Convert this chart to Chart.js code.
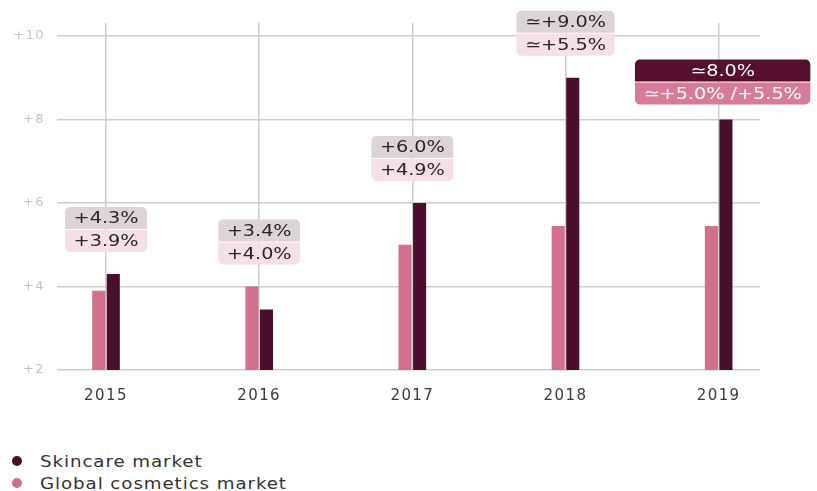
<!DOCTYPE html>
<html>
<head>
<meta charset="utf-8">
<script src="https://cdn.jsdelivr.net/npm/chart.js@4"></script>
<style>
  body { margin: 0; background: #fff; font-family: "DejaVu Sans", sans-serif; }
  #wrap { position: relative; width: 817px; height: 491px; }
  #chart { position: absolute; left: 0; top: 0; }
  #legend { position: absolute; left: 12px; top: 450px; font-size: 16px; color: #333; letter-spacing: 0.8px; }
  #legend div { display: flex; align-items: center; height: 22px; }
  #legend span.dot { width: 10px; height: 10px; border-radius: 50%; margin-right: 18px; display: inline-block; }
  #legend span.txt { display: inline-block; transform: scaleX(1.14); transform-origin: left center; }
</style>
</head>
<body>
<div id="wrap">
  <canvas id="chart" width="817" height="430"></canvas>
  <div id="legend"></div>
</div>
<script>
// --- datos ---
const years = ["2015", "2016", "2017", "2018", "2019"];
const skincare = [4.3, 3.45, 6.0, 9.0, 8.0];
const cosmetics = [3.9, 4.0, 5.0, 5.45, 5.45];
const skincareLabels = ["+4.3%", "+3.4%", "+6.0%", "\u2243+9.0%", "\u22438.0%"];
const cosmeticsLabels = ["+3.9%", "+4.0%", "+4.9%", "\u2243+5.5%", "\u2243+5.0% /+5.5%"];
const yTicks = [2, 4, 6, 8, 10];

const darkColor = "#4a0f2d";
const pinkColor = "#d0708c";
const gridColor = "#cdcdcd";
const fontFam = "'DejaVu Sans', sans-serif";
const highlightIdx = 4;
const stretch = 1.2; // el texto original es ancho

// espaciado extra para los ticks
const spacing = {
    id: "spacing",
    beforeUpdate(chart) { chart.ctx.letterSpacing = "1.4px"; },
    beforeDraw(chart) { chart.ctx.letterSpacing = "1.4px"; }
};

// texto estirado horizontalmente
function wideText(ctx, t, cx, cy) {
    ctx.save();
    ctx.translate(cx, cy);
    ctx.scale(stretch, 1);
    ctx.fillText(t, 0, 0);
    ctx.restore();
}

// cajas de etiquetas encima de cada año
const labelBoxes = {
    id: "labelBoxes",
    afterDatasetsDraw(chart) {
        const { ctx, scales: { x, y } } = chart;
        ctx.save();
        ctx.letterSpacing = "0px";
        ctx.font = "16px " + fontFam;
        ctx.textAlign = "center";
        ctx.textBaseline = "middle";
        const rowH = 22;
        years.forEach((yr, i) => {
            const hi = i === highlightIdx;
            const cx = x.getPixelForValue(i) + (hi ? 4 : 0);
            const top = y.getPixelForValue(Math.max(skincare[i], cosmetics[i])) - (hi ? 16 : 23) - rowH * 2;
            const tw = Math.max(ctx.measureText(skincareLabels[i]).width, ctx.measureText(cosmeticsLabels[i]).width) * stretch;
            const w = tw + 17;
            const left = cx - w / 2;
            ctx.fillStyle = hi ? "#560f2e" : "#ddd4d8";
            ctx.beginPath();
            ctx.roundRect(left, top, w, rowH, [5, 5, 0, 0]);
            ctx.fill();
            ctx.fillStyle = hi ? "#d67c96" : "#f5e0e6";
            ctx.beginPath();
            ctx.roundRect(left, top + rowH + 1, w, rowH, [0, 0, 5, 5]);
            ctx.fill();
            ctx.fillStyle = hi ? "#ffffff" : "#2b2427";
            wideText(ctx, skincareLabels[i], cx, top + rowH / 2 + 1);
            wideText(ctx, cosmeticsLabels[i], cx, top + rowH * 1.5 + 2);
        });
        ctx.restore();
    }
};

const ctx = document.getElementById("chart").getContext("2d");
const chart = new Chart(ctx, {
    type: "bar",
    data: {
        datasets: [
            {
                label: "Global cosmetics market",
                data: cosmetics.map((v, i) => ({ x: i, y: v })),
                backgroundColor: pinkColor
            },
            {
                label: "Skincare market",
                data: skincare.map((v, i) => ({ x: i, y: v })),
                backgroundColor: darkColor
            }
        ]
    },
    options: {
        responsive: false,
        animation: false,
        categoryPercentage: 0.19,
        barPercentage: 0.9,
        layout: { padding: { top: 23, right: 57, left: 0, bottom: 0 } },
        plugins: { legend: { display: false }, tooltip: { enabled: false } },
        scales: {
            x: {
                type: "linear",
                min: -0.32,
                max: 4.27,
                offset: false,
                border: { display: false },
                grid: { offset: false, color: gridColor, lineWidth: 1.5, drawTicks: false },
                ticks: {
                    stepSize: 1,
                    includeBounds: false,
                    padding: 17,
                    color: "#3a3a3a",
                    font: { family: fontFam, size: 15 },
                    callback: v => years[v] ?? ""
                },
                afterFit: s => { s.height = 60; }
            },
            y: {
                min: 2,
                max: 10.31,
                border: { display: false },
                grid: { color: gridColor, lineWidth: 1.5, drawTicks: false },
                afterBuildTicks: s => { s.ticks = yTicks.map(v => ({ value: v })); },
                ticks: {
                    includeBounds: false,
                    padding: 12,
                    color: "#c4c4c4",
                    font: { family: fontFam, size: 13 },
                    callback: v => "+" + v
                },
                afterFit: s => { s.width = 57; }
            }
        }
    },
    plugins: [spacing, labelBoxes]
});

// leyenda en HTML (vertical, como el original)
const legendItems = [
    { name: "Skincare market", color: darkColor },
    { name: "Global cosmetics market", color: pinkColor }
];
document.getElementById("legend").innerHTML = legendItems
    .map(it => `<div><span class="dot" style="background:${it.color}"></span><span class="txt">${it.name}</span></div>`)
    .join("");
</script>
</body>
</html>
